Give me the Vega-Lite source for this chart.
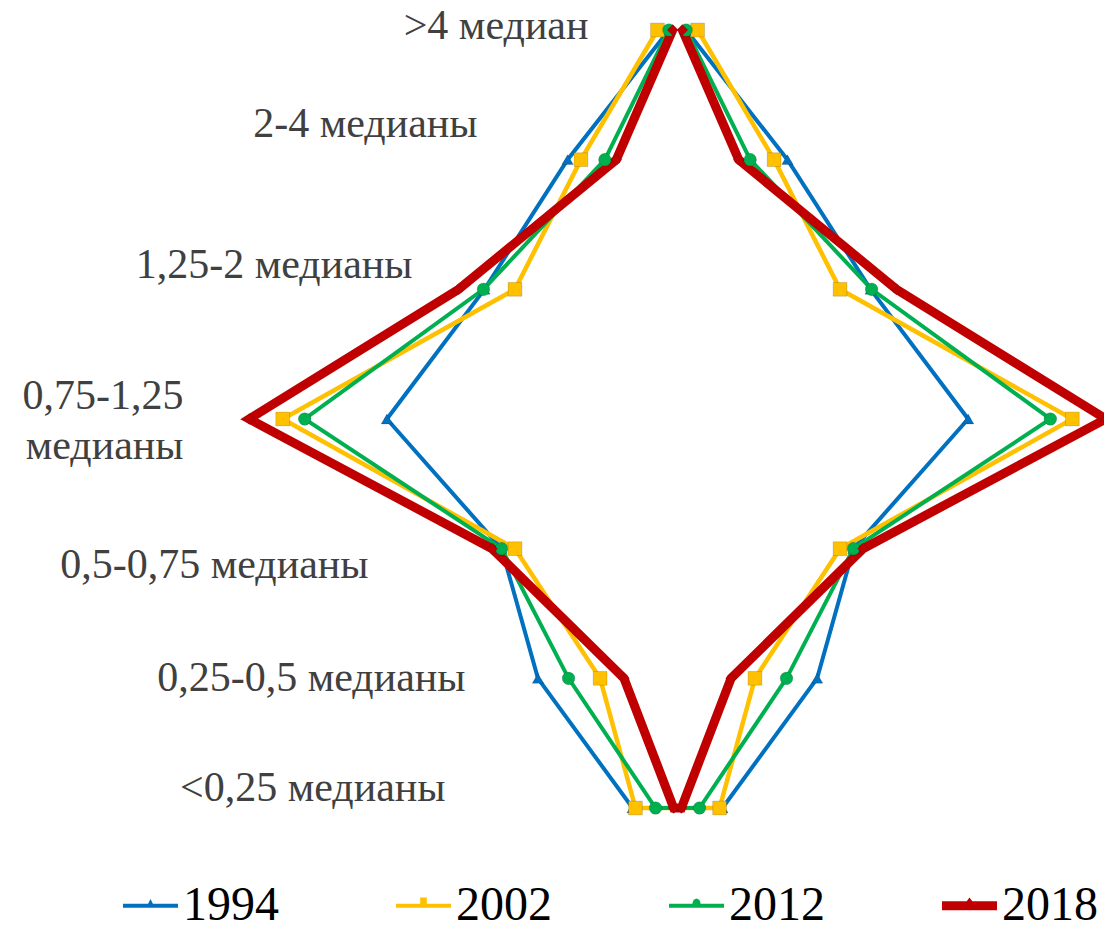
{
  "$schema": "https://vega.github.io/schema/vega-lite/v6.json",
  "width": 1104,
  "height": 778,
  "autosize": {"type": "none"},
  "padding": {"left": 0, "top": 30, "right": 0, "bottom": 122},
  "background": "white",
  "config": {"view": {"stroke": null}, "font": "Liberation Serif"},
  "data": {"values": [
    {"year": "1994", "cat": ">4 медиан", "v": -0.9, "i": 1},
    {"year": "1994", "cat": "2-4 медианы", "v": -11.5, "i": 2},
    {"year": "1994", "cat": "1,25-2 медианы", "v": -20.2, "i": 3},
    {"year": "1994", "cat": "0,75-1,25 медианы", "v": -30.4, "i": 4},
    {"year": "1994", "cat": "0,5-0,75 медианы", "v": -18.4, "i": 5},
    {"year": "1994", "cat": "0,25-0,5 медианы", "v": -14.6, "i": 6},
    {"year": "1994", "cat": "<0,25 медианы", "v": -4.7, "i": 7},
    {"year": "1994", "cat": "<0,25 медианы", "v": 4.7, "i": 8},
    {"year": "1994", "cat": "0,25-0,5 медианы", "v": 14.6, "i": 9},
    {"year": "1994", "cat": "0,5-0,75 медианы", "v": 18.4, "i": 10},
    {"year": "1994", "cat": "0,75-1,25 медианы", "v": 30.4, "i": 11},
    {"year": "1994", "cat": "1,25-2 медианы", "v": 20.2, "i": 12},
    {"year": "1994", "cat": "2-4 медианы", "v": 11.5, "i": 13},
    {"year": "1994", "cat": ">4 медиан", "v": 0.9, "i": 14},
    {"year": "2002", "cat": ">4 медиан", "v": -2.1, "i": 1},
    {"year": "2002", "cat": "2-4 медианы", "v": -10.1, "i": 2},
    {"year": "2002", "cat": "1,25-2 медианы", "v": -17.0, "i": 3},
    {"year": "2002", "cat": "0,75-1,25 медианы", "v": -41.3, "i": 4},
    {"year": "2002", "cat": "0,5-0,75 медианы", "v": -17.0, "i": 5},
    {"year": "2002", "cat": "0,25-0,5 медианы", "v": -8.1, "i": 6},
    {"year": "2002", "cat": "<0,25 медианы", "v": -4.4, "i": 7},
    {"year": "2002", "cat": "<0,25 медианы", "v": 4.4, "i": 8},
    {"year": "2002", "cat": "0,25-0,5 медианы", "v": 8.1, "i": 9},
    {"year": "2002", "cat": "0,5-0,75 медианы", "v": 17.0, "i": 10},
    {"year": "2002", "cat": "0,75-1,25 медианы", "v": 41.3, "i": 11},
    {"year": "2002", "cat": "1,25-2 медианы", "v": 17.0, "i": 12},
    {"year": "2002", "cat": "2-4 медианы", "v": 10.1, "i": 13},
    {"year": "2002", "cat": ">4 медиан", "v": 2.1, "i": 14},
    {"year": "2012", "cat": ">4 медиан", "v": -0.9, "i": 1},
    {"year": "2012", "cat": "2-4 медианы", "v": -7.6, "i": 2},
    {"year": "2012", "cat": "1,25-2 медианы", "v": -20.3, "i": 3},
    {"year": "2012", "cat": "0,75-1,25 медианы", "v": -39.0, "i": 4},
    {"year": "2012", "cat": "0,5-0,75 медианы", "v": -18.4, "i": 5},
    {"year": "2012", "cat": "0,25-0,5 медианы", "v": -11.4, "i": 6},
    {"year": "2012", "cat": "<0,25 медианы", "v": -2.3, "i": 7},
    {"year": "2012", "cat": "<0,25 медианы", "v": 2.3, "i": 8},
    {"year": "2012", "cat": "0,25-0,5 медианы", "v": 11.4, "i": 9},
    {"year": "2012", "cat": "0,5-0,75 медианы", "v": 18.4, "i": 10},
    {"year": "2012", "cat": "0,75-1,25 медианы", "v": 39.0, "i": 11},
    {"year": "2012", "cat": "1,25-2 медианы", "v": 20.3, "i": 12},
    {"year": "2012", "cat": "2-4 медианы", "v": 7.6, "i": 13},
    {"year": "2012", "cat": ">4 медиан", "v": 0.9, "i": 14},
    {"year": "2018", "cat": ">4 медиан", "v": -0.5, "i": 1},
    {"year": "2018", "cat": "2-4 медианы", "v": -6.4, "i": 2},
    {"year": "2018", "cat": "1,25-2 медианы", "v": -22.9, "i": 3},
    {"year": "2018", "cat": "0,75-1,25 медианы", "v": -44.8, "i": 4},
    {"year": "2018", "cat": "0,5-0,75 медианы", "v": -19.4, "i": 5},
    {"year": "2018", "cat": "0,25-0,5 медианы", "v": -5.6, "i": 6},
    {"year": "2018", "cat": "<0,25 медианы", "v": -0.4, "i": 7},
    {"year": "2018", "cat": "<0,25 медианы", "v": 0.4, "i": 8},
    {"year": "2018", "cat": "0,25-0,5 медианы", "v": 5.6, "i": 9},
    {"year": "2018", "cat": "0,5-0,75 медианы", "v": 19.4, "i": 10},
    {"year": "2018", "cat": "0,75-1,25 медианы", "v": 44.8, "i": 11},
    {"year": "2018", "cat": "1,25-2 медианы", "v": 22.9, "i": 12},
    {"year": "2018", "cat": "2-4 медианы", "v": 6.4, "i": 13},
    {"year": "2018", "cat": ">4 медиан", "v": 0.5, "i": 14}
  ]},
  "encoding": {
    "x": {"field": "v", "type": "quantitative", "scale": {"domain": [-70.87, 44.61], "nice": false, "zero": false}, "axis": null},
    "y": {
      "field": "cat", "type": "nominal",
      "sort": [">4 медиан", "2-4 медианы", "1,25-2 медианы", "0,75-1,25 медианы", "0,5-0,75 медианы", "0,25-0,5 медианы", "<0,25 медианы"],
      "scale": {"type": "point", "padding": 0},
      "axis": {
        "orient": "left", "offset": -600, "domain": false, "ticks": false, "grid": false, "title": null,
        "labelAlign": "right", "labelBaseline": "middle", "labelFont": "Liberation Serif", "labelFontSize": 42,
        "labelColor": "#404040", "labelLimit": 1000, "labelOverlap": false, "labelBound": false, "labelLineHeight": 50,
        "labelExpr": "datum.value === '0,75-1,25 медианы' ? ['0,75-1,25', 'медианы'] : datum.value",
        "labelPadding": {"condition": [
          {"test": "datum.value === '>4 медиан'", "value": 12},
          {"test": "datum.value === '2-4 медианы'", "value": 123},
          {"test": "datum.value === '1,25-2 медианы'", "value": 188},
          {"test": "datum.value === '0,75-1,25 медианы'", "value": 417},
          {"test": "datum.value === '0,5-0,75 медианы'", "value": 232},
          {"test": "datum.value === '0,25-0,5 медианы'", "value": 135}
        ], "value": 155},
        "labelOffset": {"condition": [
          {"test": "datum.value === '>4 медиан'", "value": -5},
          {"test": "datum.value === '2-4 медианы'", "value": -36},
          {"test": "datum.value === '1,25-2 медианы'", "value": -25},
          {"test": "datum.value === '0,75-1,25 медианы'", "value": -24},
          {"test": "datum.value === '0,5-0,75 медианы'", "value": 16},
          {"test": "datum.value === '0,25-0,5 медианы'", "value": -1}
        ], "value": -21}
      }
    }
  },
  "layer": [
    {
      "mark": {"type": "point", "filled": true, "opacity": 0},
      "encoding": {
        "color": {
          "field": "year", "type": "nominal",
          "scale": {"domain": ["1994", "2002", "2012", "2018"], "range": ["#0070C0", "#FFC000", "#00B050", "#C00000"]},
          "legend": {
            "orient": "none", "legendX": 123, "legendY": 848, "direction": "horizontal", "columns": 4, "columnPadding": 117,
            "title": null, "padding": 0, "symbolSize": 3025, "labelFont": "Liberation Serif", "labelFontSize": 48,
            "labelColor": "#000000", "labelOffset": 5, "labelLimit": 0, "symbolStrokeWidth": 0, "symbolOpacity": 1
          }
        },
        "shape": {
          "field": "year", "type": "nominal",
          "scale": {"domain": ["1994", "2002", "2012", "2018"], "range": [
            "M-1,-0.075H1V0.075H-1Z M-0.16,0.075L0,-0.25L0.16,0.075Z",
            "M-1,-0.075H1V0.075H-1Z M-0.12,-0.3H0.12V0H-0.12Z",
            "M-1,-0.075H1V0.075H-1Z M-0.15,-0.1L-0.1,-0.22L0,-0.26L0.1,-0.22L0.15,-0.1L0.1,0L-0.1,0Z",
            "M-1,-0.16H1V0.16H-1Z M-0.1,-0.16L0,-0.3L0.1,-0.16Z"
          ]},
          "legend": {
            "orient": "none", "legendX": 123, "legendY": 848, "direction": "horizontal", "columns": 4, "columnPadding": 117,
            "title": null, "padding": 0, "symbolSize": 3025, "labelFont": "Liberation Serif", "labelFontSize": 48,
            "labelColor": "#000000", "labelOffset": 5, "labelLimit": 0, "symbolStrokeWidth": 0, "symbolOpacity": 1
          }
        }
      }
    },
    {
      "mark": {"type": "line", "clip": false},
      "encoding": {
        "color": {"field": "year", "type": "nominal", "scale": {"domain": ["1994", "2002", "2012", "2018"], "range": ["#0070C0", "#FFC000", "#00B050", "#C00000"]}, "legend": null},
        "order": {"field": "i", "type": "quantitative"},
        "strokeWidth": {"condition": [
          {"test": "datum.year === '2018'", "value": 9},
          {"test": "datum.year === '2002'", "value": 4.5}
        ], "value": 4}
      }
    },
    {
      "mark": {"type": "point", "filled": true, "opacity": 1, "stroke": "#000000", "strokeOpacity": 0.15, "strokeWidth": 1},
      "encoding": {
        "color": {"field": "year", "type": "nominal", "scale": {"domain": ["1994", "2002", "2012", "2018"], "range": ["#0070C0", "#FFC000", "#00B050", "#C00000"]}, "legend": null},
        "shape": {"condition": [
          {"test": "datum.year === '1994'", "value": "triangle-up"},
          {"test": "datum.year === '2002'", "value": "square"},
          {"test": "datum.year === '2012'", "value": "circle"}
        ], "value": "diamond"},
        "size": {"condition": [
          {"test": "datum.year === '1994'", "value": 130},
          {"test": "datum.year === '2002'", "value": 190},
          {"test": "datum.year === '2012'", "value": 160}
        ], "value": 120}
      }
    }
  ]
}
